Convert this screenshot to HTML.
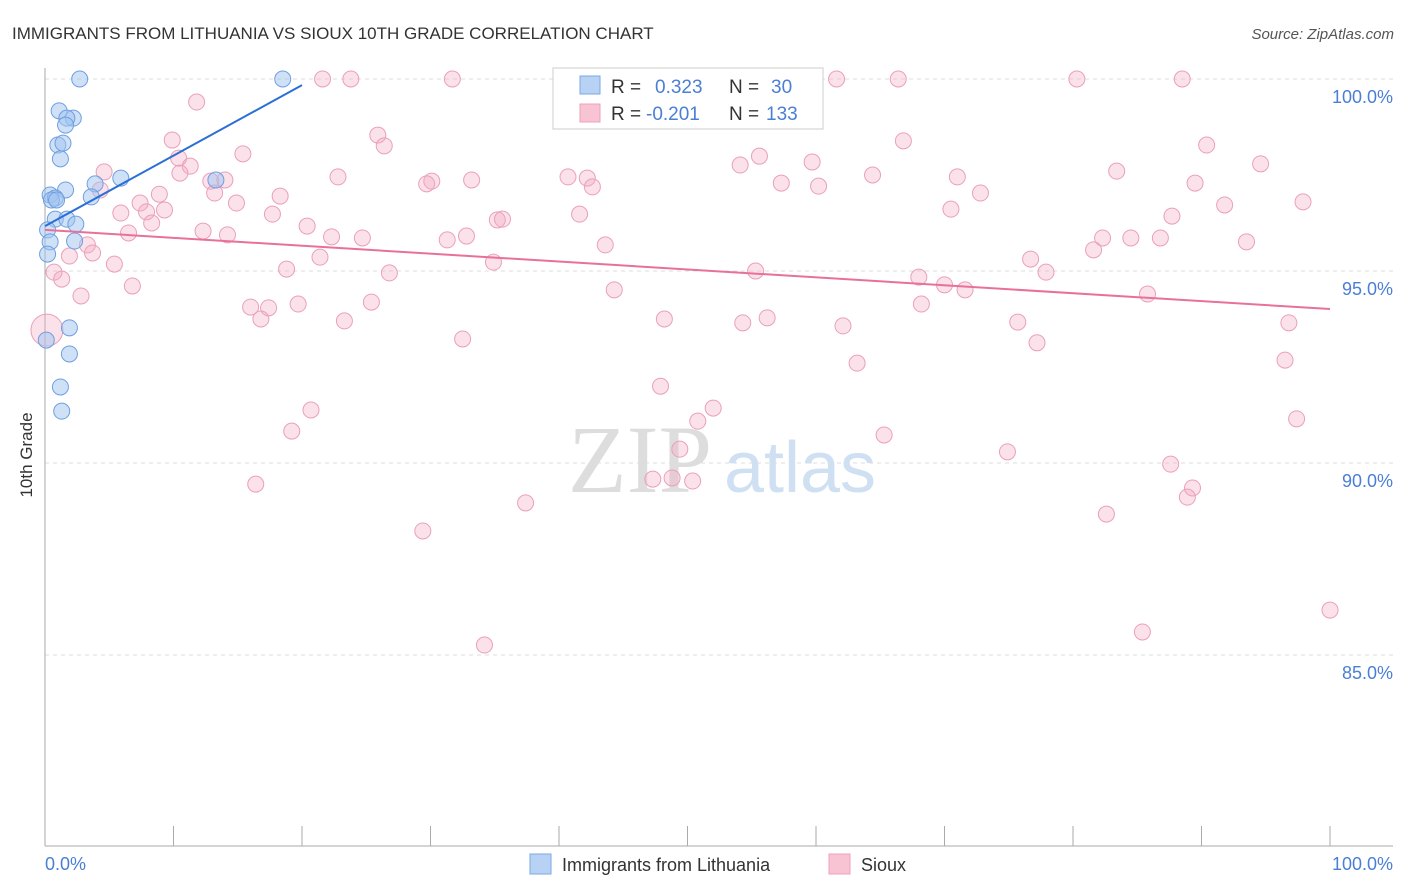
<!DOCTYPE html>
<html><head><meta charset="utf-8"><style>
body{margin:0;background:#fff;font-family:"Liberation Sans",sans-serif;}
svg{display:block}
</style></head><body>
<svg width="1406" height="892" xmlns="http://www.w3.org/2000/svg">
<text x="12" y="39" font-size="17" fill="#333">IMMIGRANTS FROM LITHUANIA VS SIOUX 10TH GRADE CORRELATION CHART</text>
<text x="1394" y="39" font-size="15" fill="#555" text-anchor="end" font-style="italic">Source: ZipAtlas.com</text>
<g id="grid"></g>
<g id="axes"></g>
<text x="640" y="492" font-size="96" fill="#ddd" font-family="Liberation Serif,serif" text-anchor="middle">ZIP</text>
<text x="800" y="492" font-size="72" fill="#cfe0f3" text-anchor="middle">atlas</text>
<g id="pts"></g>
<g id="lines"></g>
<text x="32" y="455" font-size="17" fill="#333" text-anchor="middle" transform="rotate(-90 32 455)">10th Grade</text>
<text x="45" y="870" font-size="18" fill="#4a7fd4">0.0%</text>
<text x="1393" y="870" font-size="18" fill="#4a7fd4" text-anchor="end">100.0%</text>
<g>
<rect x="553" y="68" width="270" height="61" fill="#fff" stroke="#ccc"/>
<rect x="580" y="76" width="20" height="18" fill="#b8d2f4" stroke="#7aa8e4"/>
<rect x="580" y="104" width="20" height="18" fill="#f8c4d4" stroke="#eea0ba"/>
<text x="611" y="93" font-size="19" fill="#333">R = </text><text x="655" y="93" font-size="19" fill="#4a7fd4">0.323</text>
<text x="729" y="93" font-size="19" fill="#333">N = </text><text x="771" y="93" font-size="19" fill="#4a7fd4">30</text>
<text x="611" y="120" font-size="19" fill="#333">R = </text><text x="646" y="120" font-size="19" fill="#4a7fd4">-0.201</text>
<text x="729" y="120" font-size="19" fill="#333">N = </text><text x="766" y="120" font-size="19" fill="#4a7fd4">133</text>
</g>
<g><rect x="530" y="854" width="21" height="20" fill="#b8d2f4" stroke="#7aa8e4"/><text x="562" y="871" font-size="18" fill="#333">Immigrants from Lithuania</text></g>
<g><rect x="829" y="854" width="21" height="20" fill="#f8c4d4" stroke="#eea0ba"/><text x="861" y="871" font-size="18" fill="#333">Sioux</text></g>
</svg>
<script>
const yTicks=[100,95,90,85];
const xTicks=[0,10,20,30,40,50,60,70,80,90,100];
const blueX=[2.7,18.5,1.1,2.2,1.7,1.6,1.0,1.4,1.2,3.9,5.9,13.3,1.6,0.4,0.8,0.5,0.9,3.6,0.8,1.7,2.4,0.2,2.3,0.4,0.2,1.9,0.1,1.9,1.2,1.3];
const blueY=[100,100,99.17,98.98,98.98,98.8,98.28,98.33,97.92,97.27,97.42,97.37,97.11,96.98,96.9,96.85,96.85,96.93,96.35,96.35,96.22,96.07,95.78,95.76,95.44,93.52,93.2,92.84,91.98,91.35];
const pinkX=[21.6,23.8,31.7,61.6,66.4,80.3,88.5,46.1,11.8,9.9,25.9,26.4,66.8,90.4,15.4,10.4,11.3,4.6,10.5,55.6,54.1,59.7,94.6,83.4,22.8,33.2,40.7,42.2,42.6,30.1,29.7,57.3,60.2,64.4,71.0,89.5,12.9,14.0,13.2,4.3,8.9,18.3,72.8,14.9,7.4,5.9,7.9,9.3,8.3,41.6,17.7,70.5,91.8,97.9,87.7,35.2,35.6,20.4,12.3,6.5,14.2,22.3,24.7,32.8,31.3,82.3,86.8,84.5,43.6,93.5,3.3,3.7,1.9,5.4,21.4,81.6,76.7,34.9,0.7,1.3,18.8,26.8,55.3,77.9,68.0,70.0,71.6,6.8,44.3,2.8,85.8,16.0,17.4,19.7,25.4,68.2,16.8,23.3,48.2,56.2,54.3,62.1,75.7,96.8,32.5,77.2,63.2,96.5,47.9,20.7,52.0,50.8,19.2,65.3,97.4,49.4,74.9,87.6,16.4,47.3,48.8,50.4,89.3,88.9,37.4,82.6,29.4,100,85.4,34.2,0.15];
const pinkY=[100,100,100,100,100,100,100,100,99.4,98.41,98.54,98.26,98.39,98.28,98.05,97.94,97.73,97.58,97.55,97.99,97.76,97.84,97.79,97.6,97.45,97.37,97.45,97.42,97.19,97.34,97.27,97.29,97.21,97.5,97.45,97.29,97.34,97.37,97.03,97.11,97.0,96.95,97.03,96.77,96.77,96.51,96.54,96.59,96.25,96.48,96.48,96.61,96.72,96.8,96.43,96.33,96.35,96.17,96.04,95.99,95.94,95.89,95.86,95.91,95.81,95.86,95.86,95.86,95.68,95.76,95.68,95.47,95.39,95.18,95.36,95.55,95.31,95.23,94.97,94.79,95.05,94.95,95.0,94.97,94.84,94.64,94.51,94.61,94.51,94.35,94.4,94.06,94.04,94.14,94.19,94.14,93.75,93.7,93.75,93.78,93.65,93.57,93.67,93.65,93.23,93.13,92.6,92.68,92.0,91.38,91.43,91.09,90.83,90.73,91.15,90.36,90.29,89.97,89.45,89.58,89.61,89.53,89.35,89.11,88.96,88.67,88.23,86.17,85.6,85.26,93.46];
const blueLineX=[0,20], blueLineY=[96.17,99.84];
const pinkLineX=[0,100], pinkLineY=[96.07,94.01];
const X0=45,X1=1330,YTOP=79,PX=38.4;
const sx=v=>X0+(X1-X0)*v/100, sy=v=>YTOP+(100-v)*PX;
const NS='http://www.w3.org/2000/svg';
function mk(p,t,a){const e=document.createElementNS(NS,t);for(const k in a)e.setAttribute(k,a[k]);p.appendChild(e);return e;}
const grid=document.getElementById('grid'),axes=document.getElementById('axes'),pts=document.getElementById('pts'),lines=document.getElementById('lines');
yTicks.forEach(t=>{const l=mk(grid,'line',{x1:45,x2:1393,y1:sy(t),y2:sy(t),stroke:'#ddd','stroke-dasharray':'4,4'});


const tx=mk(grid,'text',{x:1393,y:sy(t)+24,'font-size':18,fill:'#4a7fd4','text-anchor':'end'});tx.textContent=t.toFixed(1)+'%';

});
const ax=mk(axes,'line',{x1:45,x2:45,y1:68,y2:846,stroke:'#aaa'});


const bx=mk(axes,'line',{x1:45,x2:1393,y1:846,y2:846,stroke:'#aaa'});


xTicks.forEach(t=>{const l=mk(axes,'line',{x1:sx(t),x2:sx(t),y1:826,y2:846,stroke:'#aaa'});

});
pinkX.forEach((v,i)=>{const c=mk(pts,'circle',{cx:sx(v),cy:sy(pinkY[i]),r:i==pinkX.length-1?16:8,fill:'rgba(244,170,196,0.35)',stroke:'#eaa0ba','stroke-width':1});

});
blueX.forEach((v,i)=>{const c=mk(pts,'circle',{cx:sx(v),cy:sy(blueY[i]),r:8,fill:'rgba(160,196,240,0.5)',stroke:'#6f9fe0','stroke-width':1});

});
const bl=mk(lines,'line',{x1:sx(blueLineX[0]),y1:sy(blueLineY[0]),x2:sx(blueLineX[1]),y2:sy(blueLineY[1]),stroke:'#2b6fd6','stroke-width':2});


const pl=mk(lines,'line',{x1:sx(pinkLineX[0]),y1:sy(pinkLineY[0]),x2:sx(pinkLineX[1]),y2:sy(pinkLineY[1]),stroke:'#e8719a','stroke-width':2});


</script>
</body></html>
